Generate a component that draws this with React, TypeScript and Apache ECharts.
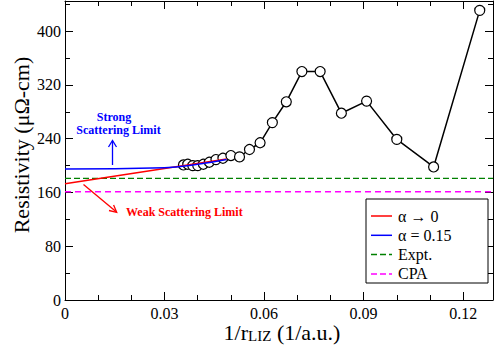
import React, { useEffect, useRef } from "react";
import * as echarts from "echarts";

// 1/r_LIZ (1/a.u.) for r = 28 ... 8
const invRliz = [
  0.0357, 0.037, 0.0385, 0.04, 0.0417, 0.0435, 0.0455, 0.0476, 0.05, 0.0526,
  0.0556, 0.0588, 0.0625, 0.0667, 0.0714, 0.0769, 0.0833, 0.0909, 0.1, 0.1111,
  0.125,
];
const resistivity = [
  201, 202, 200, 200, 202, 205, 209, 211, 215, 213, 224, 234, 264, 295, 340,
  340, 278, 296, 239, 198, 431,
];
// fitted extrapolations
const alpha0X = [0, 0.0487];
const alpha0Y = [173, 210];
const alpha015X = [0, 0.03, 0.04, 0.0487];
const alpha015Y = [195, 197, 202, 209];
// reference levels
const exptLevel = 181;
const cpaLevel = 161;

const xMin = 0;
const xMax = 0.129;
const yMin = 0;
const yMax = 445;
const xMajor = 0.03;
const xMinor = 0.01;
const yMajor = 80;
const yMinor = 40;

const legendNames = ["α → 0", "α = 0.15", "Expt.", "CPA"];
const legendColors = ["#ff0000", "#0000ff", "#008000", "#ff00ff"];
const legendDashed = [false, false, true, true];

const FONT = "'Liberation Serif', 'Times New Roman', serif";

const zip = (xs: number[], ys: number[]) => xs.map((x, i) => [x, ys[i]]);

export default function App() {
  const ref = useRef<HTMLDivElement>(null);
  useEffect(() => {
    if (!ref.current) return;
    const chart = echarts.init(ref.current, undefined, { renderer: "svg" });

    const axisBase = (kind: "x" | "y", position: string, major: boolean) => ({
      type: "value",
      position,
      min: kind === "x" ? xMin : yMin,
      max: kind === "x" ? xMax : yMax,
      interval: kind === "x" ? (major ? xMajor : xMinor) : major ? yMajor : yMinor,
      axisLine: {
        show: major,
        onZero: false,
        lineStyle: { color: "#000", width: 1 },
      },
      axisTick: {
        show: true,
        inside: true,
        length: major ? 8 : 5,
        lineStyle: { color: "#000", width: 1 },
      },
      splitLine: { show: false },
      axisLabel: {
        show: major && (position === "bottom" || position === "left"),
        showMaxLabel: false,
        fontFamily: FONT,
        fontSize: 16,
        color: "#000",
        margin: kind === "x" ? 5 : 4,
      },
    });

    const flat = (v: number) => [
      [xMin, v],
      [xMax, v],
    ];

    // legend box (drawn by hand so that the samples are plain lines)
    const lgX = 366;
    const lgY = 199;
    const lgW = 122;
    const lgH = 84;
    const rowY0 = 216;
    const rowStep = 19.3;
    const legendGraphics: any[] = [
      {
        type: "rect",
        shape: { x: lgX, y: lgY, width: lgW, height: lgH },
        style: { fill: "#fff", stroke: "#000", lineWidth: 1 },
        z: 100,
      },
    ];
    legendNames.forEach((name, i) => {
      const y = rowY0 + i * rowStep;
      legendGraphics.push({
        type: "line",
        shape: { x1: lgX + 5, y1: y, x2: lgX + 26, y2: y },
        style: {
          stroke: legendColors[i],
          lineWidth: 1.5,
          lineDash: legendDashed[i] ? [6, 3] : null,
        },
        z: 101,
      });
      legendGraphics.push({
        type: "text",
        x: lgX + 32,
        y,
        style: {
          text: name,
          fontFamily: FONT,
          fontSize: 16,
          fill: "#000",
          align: "left",
          verticalAlign: "middle",
        },
        z: 101,
      });
    });

    chart.setOption({
      animation: false,
      backgroundColor: "#fff",
      grid: { left: 65, right: 2, top: 1, bottom: 56 },
      xAxis: [
        axisBase("x", "bottom", true),
        axisBase("x", "top", true),
        axisBase("x", "bottom", false),
        axisBase("x", "top", false),
      ],
      yAxis: [
        axisBase("y", "left", true),
        axisBase("y", "right", true),
        axisBase("y", "left", false),
        axisBase("y", "right", false),
      ],
      series: [
        {
          name: "data",
          type: "line",
          data: zip(invRliz, resistivity),
          symbol: "circle",
          symbolSize: 10,
          itemStyle: { color: "#fff", borderColor: "#000", borderWidth: 1.2 },
          lineStyle: { color: "#000", width: 1.5 },
          z: 2,
        },
        {
          name: legendNames[0],
          type: "line",
          data: zip(alpha0X, alpha0Y),
          symbol: "none",
          color: legendColors[0],
          lineStyle: { color: legendColors[0], width: 1.5 },
          z: 4,
        },
        {
          name: legendNames[1],
          type: "line",
          data: zip(alpha015X, alpha015Y),
          symbol: "none",
          smooth: true,
          color: legendColors[1],
          lineStyle: { color: legendColors[1], width: 1.5 },
          z: 5,
        },
        {
          name: legendNames[2],
          type: "line",
          data: flat(exptLevel),
          symbol: "none",
          color: legendColors[2],
          lineStyle: { color: legendColors[2], width: 1.2, type: [6, 3] },
          z: 1,
        },
        {
          name: legendNames[3],
          type: "line",
          data: flat(cpaLevel),
          symbol: "none",
          color: legendColors[3],
          lineStyle: { color: legendColors[3], width: 1.5, type: [6, 4] },
          z: 1,
        },
      ],
      graphic: [
        ...legendGraphics,
        {
          type: "text",
          x: 21,
          y: 145,
          rotation: Math.PI / 2,
          style: {
            text: "Resistivity (μΩ-cm)",
            fontFamily: FONT,
            fontSize: 22,
            fill: "#000",
            align: "center",
            verticalAlign: "middle",
          },
        },
        {
          type: "text",
          x: 282,
          y: 321,
          style: {
            text: "{m|1/r}{s|LIZ}{m| (1/a.u.)}",
            fontFamily: FONT,
            align: "center",
            verticalAlign: "top",
            fill: "#000",
            rich: {
              m: {
                fontFamily: FONT,
                fontSize: 22,
                lineHeight: 22,
                verticalAlign: "top",
                fill: "#000",
              },
              s: {
                fontFamily: FONT,
                fontSize: 15,
                lineHeight: 15,
                padding: [15, 0, 0, 0],
                verticalAlign: "bottom",
                fill: "#000",
              },
            },
          },
        },
        {
          type: "text",
          x: 114,
          y: 117,
          style: {
            text: "Strong",
            fontFamily: FONT,
            fontWeight: "bold",
            fontSize: 12,
            fill: "#0000ff",
            align: "center",
            verticalAlign: "middle",
          },
        },
        {
          type: "text",
          x: 118.5,
          y: 130,
          style: {
            text: "Scattering Limit",
            fontFamily: FONT,
            fontWeight: "bold",
            fontSize: 12,
            fill: "#0000ff",
            align: "center",
            verticalAlign: "middle",
          },
        },
        {
          type: "text",
          x: 126,
          y: 212,
          style: {
            text: "Weak Scattering Limit",
            fontFamily: FONT,
            fontWeight: "bold",
            fontSize: 12,
            fill: "#ff0000",
            align: "left",
            verticalAlign: "middle",
          },
        },
        {
          type: "line",
          shape: { x1: 112.5, y1: 165, x2: 112.5, y2: 141 },
          style: { stroke: "#0000ff", lineWidth: 1.3 },
        },
        {
          type: "polyline",
          shape: { points: [[108.5, 147], [112.5, 140.5], [116.5, 147]] },
          style: { stroke: "#0000ff", lineWidth: 1.3, fill: null },
        },
        {
          type: "line",
          shape: { x1: 83.5, y1: 184.5, x2: 116.5, y2: 212 },
          style: { stroke: "#ff0000", lineWidth: 1.3 },
        },
        {
          type: "polyline",
          shape: { points: [[109, 210.5], [116.7, 212.3], [113.6, 205]] },
          style: { stroke: "#ff0000", lineWidth: 1.3, fill: null },
        },
      ],
    });
    return () => chart.dispose();
  }, []);
  return (
    <div
      ref={ref}
      style={{ position: "absolute", left: 0, top: 0, width: 495, height: 356 }}
    />
  );
}
